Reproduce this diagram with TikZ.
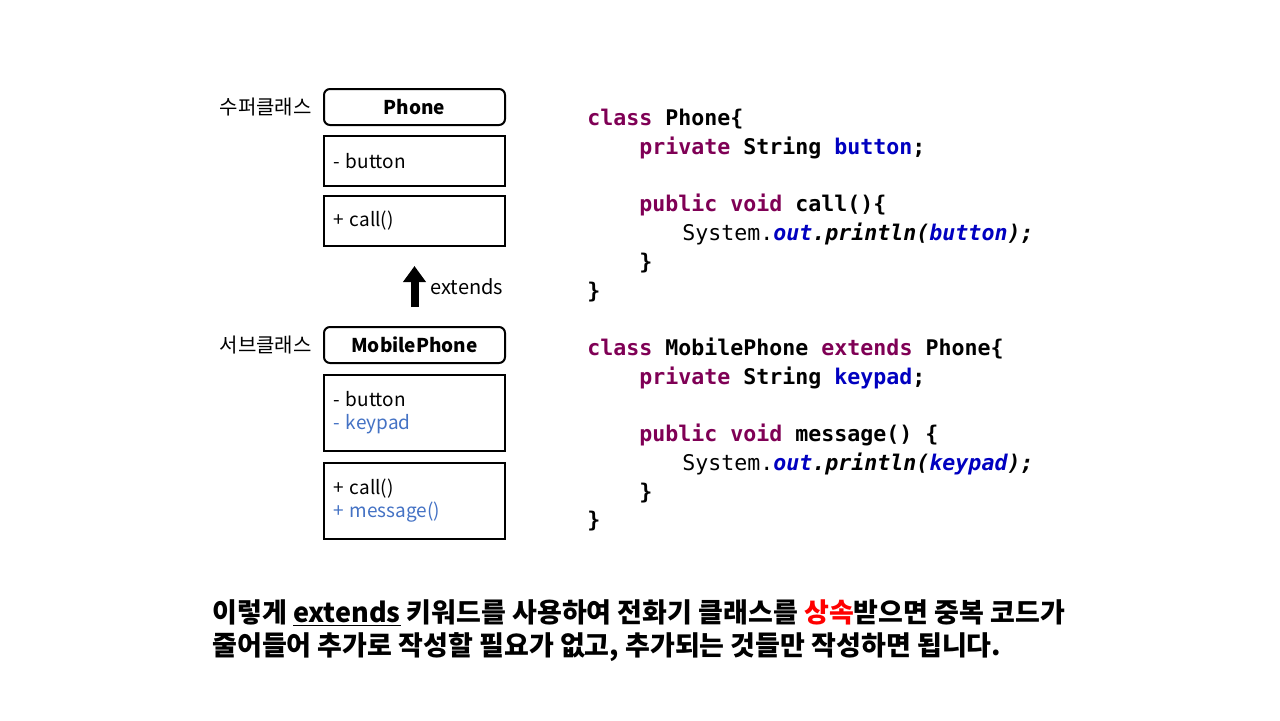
\documentclass[tikz,border=0pt]{standalone}
\usepackage{fontspec}
\setmainfont{Noto Sans CJK KR}
\setmonofont{DejaVu Sans Mono}
\usetikzlibrary{positioning}
\usetikzlibrary{arrows.meta}
\definecolor{kwcol}{HTML}{7F0055}
\definecolor{fieldcol}{HTML}{0000C0}
\definecolor{newcol}{HTML}{4472C4}
\definecolor{hlred}{HTML}{FF0000}
\tikzset{
	classhead/.style={
		draw,
		rectangle,
		rounded corners=3pt,
		line width=1pt,
		outer sep=0pt,
		minimum width=90.5pt,
		minimum height=18pt,
		inner sep=0pt,
		font=\fontsize{9.5}{11.5}\selectfont\bfseries
	},
	member/.style={
		draw,
		rectangle,
		line width=1pt,
		outer sep=0pt,
		text width=81.5pt,
		inner sep=4.5pt,
		align=left,
		minimum height=25pt,
		font=\fontsize{9.5}{11.5}\selectfont
	},
	rolelabel/.style={inner sep=0pt, font=\fontsize{10}{12}\selectfont},
	codeblock/.style={inner sep=0pt, align=left, font=\fontsize{10.8}{14.36}\selectfont\ttfamily\bfseries},
	summary/.style={inner sep=0pt, font=\fontsize{13.5}{16.5}\selectfont\bfseries}
}
\newcommand{\kw}[1]{\textcolor{kwcol}{#1}}
\newcommand{\fld}[1]{\textcolor{fieldcol}{#1}}
\begin{document}
\begin{tikzpicture}[x=0.5pt, y=-0.5pt, node distance=5.5pt]
	\useasboundingbox (0,0) rectangle (1280,720);
	% super class
	\node[classhead] (phone) at (414.5,107) {Phone};
	\node[member, below=of phone] (pfields) {- button};
	\node[member, below=5pt of pfields] (pmethods) {+ call()};
	\node[rolelabel, left=6pt of phone] (superlabel) {수퍼클래스};
	% sub class
	\node[classhead] (mobile) at (414.5,345) {MobilePhone};
	\node[member, below=6pt of mobile, minimum height=38pt] (mfields) {- button\\ \textcolor{newcol}{- keypad}};
	\node[member, below=6pt of mfields, minimum height=38pt] (mmethods) {+ call()\\ \textcolor{newcol}{+ message()}};
	\node[rolelabel, left=6pt of mobile] (sublabel) {서브클래스};

	\draw[line width=4pt, -{Triangle[width=11pt,length=8pt]}, shorten <=10pt, shorten >=10pt] (mobile.north) -- (pmethods.south) node[midway, right=6pt, rolelabel]{extends};

	% java code
	\node[codeblock, anchor=north west] (javacode) at (587,109) {
		\kw{class} Phone\{\\
		\hspace*{26pt}\kw{private} String \fld{button};\\
		\mbox{}\\
		\hspace*{26pt}\kw{public} \kw{void} call()\{\\
		\hspace*{47.5pt}{\mdseries System.}{\itshape\fld{out}.println(\fld{button});}\\
		\hspace*{26pt}\}\\
		\}\\
		\mbox{}\\
		\kw{class} MobilePhone \kw{extends} Phone\{\\
		\hspace*{26pt}\kw{private} String \fld{keypad};\\
		\mbox{}\\
		\hspace*{26pt}\kw{public} \kw{void} message() \{\\
		\hspace*{47.5pt}{\mdseries System.}{\itshape\fld{out}.println(\fld{keypad});}\\
		\hspace*{26pt}\}\\
		\}
	};

	% explanation
	\node[summary, anchor=base west] (line1) at (212,622) {이렇게 \underline{extends} 키워드를 사용하여 전화기 클래스를 \textcolor{hlred}{상속}받으면 중복 코드가};
	\node[summary, anchor=base west] (line2) at (212,655) {줄어들어 추가로 작성할 필요가 없고, 추가되는 것들만 작성하면 됩니다.};
\end{tikzpicture}
\end{document}
